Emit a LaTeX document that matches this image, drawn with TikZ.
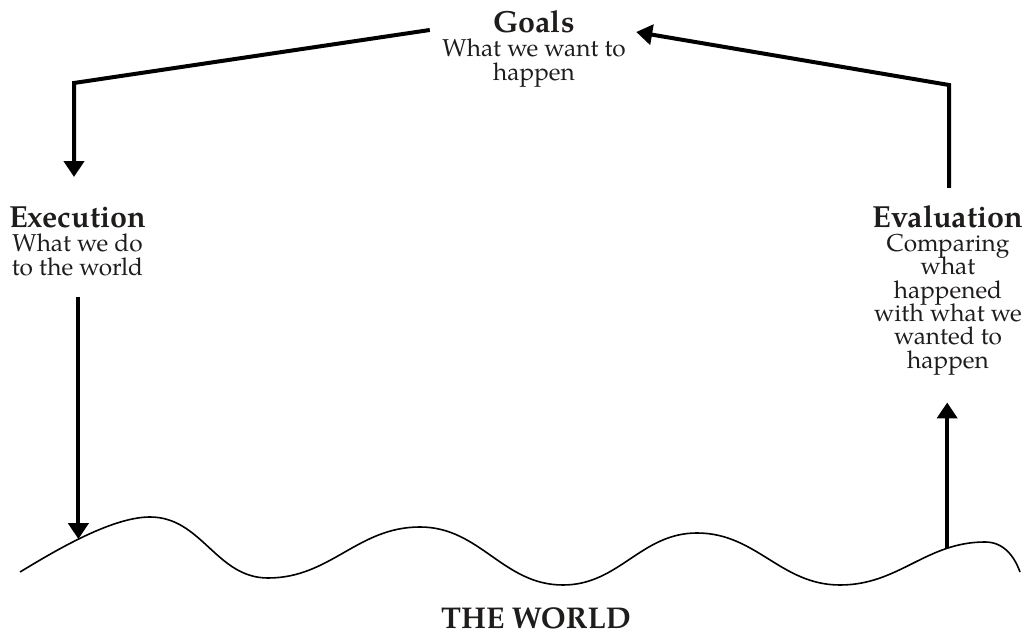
\documentclass[tikz,border=0pt]{standalone}
\usepackage{fontspec}
\setmainfont{TeX Gyre Pagella}
\usetikzlibrary{arrows.meta,calc}
\definecolor{ink}{rgb}{0.12,0.11,0.11}
\newcommand{\lbl}[4]{\parbox[t]{#1}{\centering\fontsize{24.4}{#2}\selectfont\lineskiplimit=-100pt {\bfseries\fontsize{30.5}{#2}\selectfont #3}\\#4}}
\tikzset{
  conn/.style={line width=4pt, line join=miter, -{Triangle[width=20pt,length=16pt]}},
  txt/.style={inner sep=0pt, text=ink, anchor=base},
  wave/.style={line width=1.6pt}
}
\begin{document}
\begin{tikzpicture}[x=1pt,y=1pt]
\useasboundingbox (0,0) rectangle (1024,639);
% labels
\node[txt] (goals) at (534,606) {\lbl{220pt}{24pt}{Goals}{What we want to\\happen}};
\node[txt] (exec) at (77.5,411) {\lbl{150pt}{24pt}{Execution}{What we do\\to the world}};
\node[txt] (eval) at (948,411) {\lbl{170pt}{23.4pt}{Evaluation}{Comparing\\what\\happened\\with what we\\wanted to\\happen}};
\node[txt, font=\bfseries\fontsize{30}{30}\selectfont] (world) at (536,10) {THE WORLD};
% the world
\draw[wave] (20,67) .. controls (50,85) and (110,122) .. (150,122) coordinate[pos=0.48] (w1)
  to[out=0,in=180] (268,61)
  to[out=0,in=180] (420,112)
  to[out=0,in=180] (563,54)
  to[out=0,in=180] (697,106)
  to[out=0,in=180] (840,54)
  .. controls (899,54) and (926,97) .. (985,97) coordinate[pos=0.76] (w2)
  to[out=0,in=110] (1020,67);
% connectors
\coordinate (cl) at (74,556);
\coordinate (cr) at (949,554);
\draw[conn] ([shift={(6,3)}]goals.base west) -- (cl) -- ($(cl |- exec.north)+(0,30)$);
\draw[conn] ($(cr |- eval.north)+(0,18)$) -- (cr) -- ([shift={(-8,1)}]goals.base east);
\draw[conn] ($(w1 |- exec.south)+(0,-20)$) -- (w1);
\draw[conn] (w2) -- ($(w2 |- eval.south)+(0,-27)$);
\end{tikzpicture}
\end{document}
